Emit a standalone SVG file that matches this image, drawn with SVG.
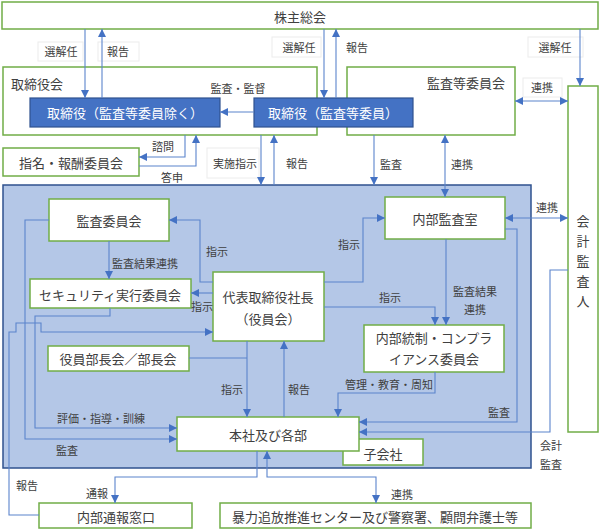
<svg xmlns="http://www.w3.org/2000/svg" width="600" height="529" viewBox="0 0 600 529">
<defs>
<style>
text{font-family:"Noto Sans CJK JP","Noto Sans",sans-serif;fill:#404040;dominant-baseline:central;text-anchor:middle}
.bx{fill:#fff;stroke:#70ad47;stroke-width:1.5}
.db{fill:#4472c4;stroke:#2f528f;stroke-width:1.2}
.wt{fill:#fff;font-size:13px}
.t{font-size:13px}
.l{font-size:11px}
.lb{fill:#fff;stroke:#ececec;stroke-width:1}
.c path{fill:none;stroke:#5b84cc;stroke-width:1.1}
.e{marker-end:url(#ah)}
.b{marker-start:url(#ah);marker-end:url(#ah)}
</style>
<marker id="ah" viewBox="0 0 10 10" refX="10" refY="5" markerWidth="8" markerHeight="8" orient="auto-start-reverse" markerUnits="userSpaceOnUse"><path d="M0,0L10,5L0,10z" fill="#4472c4"/></marker>
</defs>
<rect width="600" height="529" fill="#fff"/>

<g id="group-area"><rect x="3" y="185" width="528" height="283" fill="#b4c7e7" stroke="#2f528f" stroke-width="1.5"/></g>

<g id="shareholders"><rect class="bx" x="2" y="2" width="596" height="27"/><text class="t" x="300" y="16">株主総会</text></g>
<g id="board"><rect class="bx" x="3" y="67" width="314" height="68"/><text class="t" x="37" y="83">取締役会</text></g>
<g id="audit-committee-board"><rect class="bx" x="347" y="67" width="168" height="68"/><text class="t" x="466" y="82">監査等委員会</text></g>
<g id="directors"><rect class="db" x="30" y="98" width="190" height="29"/><text class="wt" x="125" y="112.5">取締役（監査等委員除く）</text></g>
<g id="audit-directors"><rect class="db" x="254" y="98" width="159" height="29"/><text class="wt" x="333" y="112.5">取締役（監査等委員）</text></g>
<g id="auditor"><rect class="bx" x="568" y="86" width="30" height="346"/>
<text class="t" x="583" y="220">会</text><text class="t" x="583" y="240">計</text><text class="t" x="583" y="260">監</text><text class="t" x="583" y="280">査</text><text class="t" x="583" y="300">人</text></g>
<g id="nomination"><rect class="bx" x="3" y="148" width="136" height="28"/><text class="t" x="71" y="162">指名・報酬委員会</text></g>

<g id="subsidiary"><rect class="bx" x="343" y="439" width="80" height="26"/><text class="t" x="383" y="453">子会社</text></g>
<g id="audit-committee"><rect class="bx" x="49" y="199" width="120" height="42"/><text class="t" x="109" y="220">監査委員会</text></g>
<g id="internal-audit"><rect class="bx" x="385" y="197" width="120" height="42"/><text class="t" x="445" y="218">内部監査室</text></g>
<g id="security"><rect class="bx" x="30" y="279" width="161" height="29"/><text class="t" x="110" y="294">セキュリティ実行委員会</text></g>
<g id="president"><rect class="bx" x="213" y="272" width="111" height="69"/><text class="t" x="268" y="296">代表取締役社長</text><text class="t" x="268" y="318">（役員会）</text></g>
<g id="managers"><rect class="bx" x="48" y="346" width="141" height="25"/><text class="t" x="118" y="358.5">役員部長会／部長会</text></g>
<g id="compliance"><rect class="bx" x="364" y="325" width="140" height="47"/><text class="t" x="434" y="337">内部統制・コンプラ</text><text class="t" x="434" y="358">イアンス委員会</text></g>
<g id="head-office"><rect class="bx" x="177" y="417" width="182" height="34"/><text class="t" x="268" y="434">本社及び各部</text></g>
<g id="whistle"><rect class="bx" x="39" y="503" width="153" height="25"/><text class="t" x="116" y="516">内部通報窓口</text></g>
<g id="external"><rect class="bx" x="220" y="503" width="311" height="25"/><text class="t" x="375" y="516">暴力追放推進センター及び警察署、顧問弁護士等</text></g>

<g id="label-boxes">
<rect class="lb" x="38" y="42" width="45" height="19"/>
<rect class="lb" x="98" y="42" width="41" height="19"/>
<rect class="lb" x="272" y="37" width="49" height="20"/>
<rect class="lb" x="528" y="37" width="55" height="20"/>
<rect class="lb" x="523" y="78" width="39" height="19"/>
<rect class="lb" x="207" y="148" width="52" height="30"/>
</g>

<g id="connectors" class="c">
<path class="e" d="M85,29V98"/>
<path class="e" d="M102,98V29"/>
<path class="e" d="M324,29V98"/>
<path class="e" d="M336,98V29"/>
<path class="e" d="M580,29V86"/>
<path class="e" d="M254,112H220"/>
<path class="b" d="M515,101H568"/>
<path class="e" d="M185,135V157H139"/>
<path class="e" d="M139,166H196V135"/>
<path class="e" d="M261,135V185"/>
<path class="e" d="M274,185V135"/>
<path class="e" d="M374,135V185"/>
<path class="b" d="M445,135V197"/>
<path class="e" d="M213,282H200V220H169"/>
<path class="e" d="M213,293H191"/>
<path class="e" d="M109,241V279"/>
<path class="e" d="M324,282H363V218H385"/>
<path class="e" d="M324,307H435V325"/>
<path class="e" d="M446,239V325"/>
<path class="b" d="M505,218H568"/>
<path class="e" d="M505,229H517V422H359"/>
<path class="e" d="M568,270H550V432H359"/>
<path class="e" d="M435,372V393H338V417"/>
<path class="e" d="M247,341V417"/>
<path class="e" d="M284,417V341"/>
<path d="M189,358H247"/>
<path class="e" d="M110,308V316H35V428H177"/>
<path class="e" d="M49,220H25V439H177"/>
<path class="e" d="M39,515H9V332H16V323H41V332H213"/>
<path class="e" d="M257,451V477H115V503"/>
<path class="b" d="M267,451V477H376V503"/>
</g>

<g id="labels">
<text class="l" x="61" y="51">選解任</text>
<text class="l" x="118" y="51">報告</text>
<text class="l" x="299" y="47">選解任</text>
<text class="l" x="357" y="47">報告</text>
<text class="l" x="555" y="47">選解任</text>
<text class="l" x="542" y="87">連携</text>
<text class="l" x="238" y="88">監査・監督</text>
<text class="l" x="163" y="146">諮問</text>
<text class="l" x="172" y="177">答申</text>
<text class="l" x="235" y="163">実施指示</text>
<text class="l" x="297" y="163">報告</text>
<text class="l" x="391" y="164">監査</text>
<text class="l" x="462" y="164">連携</text>
<text class="l" x="217" y="251">指示</text>
<text class="l" x="145" y="263">監査結果連携</text>
<text class="l" x="202" y="306">指示</text>
<text class="l" x="349" y="244">指示</text>
<text class="l" x="390" y="297">指示</text>
<text class="l" x="475" y="291">監査結果</text>
<text class="l" x="475" y="309">連携</text>
<text class="l" x="547" y="207">連携</text>
<text class="l" x="232" y="389">指示</text>
<text class="l" x="299" y="389">報告</text>
<text class="l" x="389" y="384">管理・教育・周知</text>
<text class="l" x="499" y="412">監査</text>
<text class="l" x="551" y="445">会計</text>
<text class="l" x="551" y="464">監査</text>
<text class="l" x="101" y="418">評価・指導・訓練</text>
<text class="l" x="67" y="450">監査</text>
<text class="l" x="27" y="485">報告</text>
<text class="l" x="97" y="493">通報</text>
<text class="l" x="402" y="494">連携</text>
</g>
</svg>
